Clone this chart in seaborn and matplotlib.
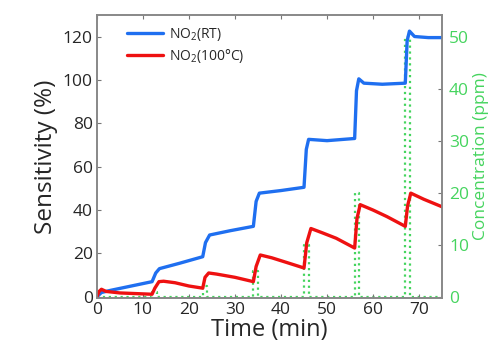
import pandas as pd
import matplotlib
matplotlib.use('Agg')
import matplotlib.pyplot as plt
import seaborn as sns

# donnees
t_rt = [0, 1, 3, 12, 12.8, 13.6, 18, 23, 23.6, 24.5, 29, 34, 34.6, 35.3, 40, 45, 45.5, 46, 50, 56,
        56.4, 56.9, 58, 62, 67, 67.4, 67.9, 69, 72, 75]
sens_rt = [0, 2, 3, 7, 11, 13, 15.5, 18.5, 25, 28.5, 30.5, 32.5, 44, 47.8, 49, 50.5, 68, 72.6, 72, 73,
           95, 100.5, 98.5, 98, 98.5, 118, 122.5, 120, 119.5, 119.5]

t_100 = [0, 0.5, 1, 2, 5, 12, 12.6, 13.5, 14.5, 17, 20, 23, 23.5, 24.3, 26, 30, 34, 34.6, 35.5, 38,
         41, 45, 45.6, 46.5, 49, 52, 56, 56.5, 57.2, 60, 63, 67, 67.5, 68.2, 71, 75]
sens_100 = [0, 2.5, 3.5, 2.5, 1.8, 1.2, 4, 7, 7.2, 6.5, 5, 4, 9, 11, 10.5, 9, 7, 14, 19.3, 18,
            16, 13.3, 25, 31.5, 29.5, 27, 22.5, 36, 42.5, 40, 37, 32.5, 42, 47.8, 45, 41.5]

t_conc = [0, 12, 12, 13, 13, 23, 23, 24, 24, 34, 34, 35, 35, 45, 45, 46, 46, 56, 56, 57, 57,
          67, 67, 68, 68, 75]
conc = [0, 0, 1, 1, 0, 0, 2, 2, 0, 0, 5, 5, 0, 0, 10, 10, 0, 0, 20, 20, 0,
        0, 50, 50, 0, 0]

bleu = '#1f6ff0'
rouge = '#ee1111'
vert = '#45d45e'

sns.set_style('ticks')
plt.rcParams['font.family'] = ['Open Sans', 'DejaVu Sans']
plt.rcParams['mathtext.fontset'] = 'custom'
plt.rcParams['mathtext.rm'] = 'Open Sans'

fig = plt.figure(figsize=(4.94, 3.53), dpi=100)
ax = fig.add_axes([0.196, 0.156, 0.699, 0.802])
ax2 = ax.twinx()

df_rt = pd.DataFrame({'t': t_rt, 's': sens_rt})
df_100 = pd.DataFrame({'t': t_100, 's': sens_100})
df_c = pd.DataFrame({'t': t_conc, 'c': conc})

sns.lineplot(data=df_c, x='t', y='c', ax=ax2, color=vert, lw=1.6, ls=':',
             sort=False, estimator=None)
sns.lineplot(data=df_rt, x='t', y='s', ax=ax, color=bleu, lw=2.4, sort=False,
             estimator=None, label='NO$_2$(RT)')
sns.lineplot(data=df_100, x='t', y='s', ax=ax, color=rouge, lw=2.4, sort=False,
             estimator=None, label='NO$_2$(100°C)')

ax.set_zorder(ax2.get_zorder() + 1)
ax.patch.set_visible(False)

ax.set_xlim(0, 75)
ax.set_ylim(-0.5, 130)
ax2.set_ylim(-0.2, 54.2)
ax.set_xticks(range(0, 80, 10))
ax.set_yticks(range(0, 140, 20))
ax2.set_yticks(range(0, 60, 10))

ax.set_xlabel('Time (min)', fontsize=17, labelpad=0)
ax.set_ylabel('Sensitivity (%)', fontsize=17.5, labelpad=3)
ax2.set_ylabel('Concentration (ppm)', fontsize=12.5, color=vert, labelpad=3)

ax.tick_params(direction='in', length=3, labelsize=12.5, top=True, pad=3, color='#777777')
ax2.tick_params(direction='in', length=3, labelsize=12.5, colors=vert, pad=5)
ax2.tick_params(axis='y', color='#777777')
for a in (ax, ax2):
    for s in a.spines.values():
        s.set_color('#888888')
        s.set_linewidth(1.2)

leg = ax.legend(loc='upper left', frameon=False, fontsize=10, handlelength=2.6,
                handletextpad=0.4, borderaxespad=0.3, labelspacing=0.3,
                bbox_to_anchor=(0.06, 0.995))

fig.savefig('out.png', dpi=100)
